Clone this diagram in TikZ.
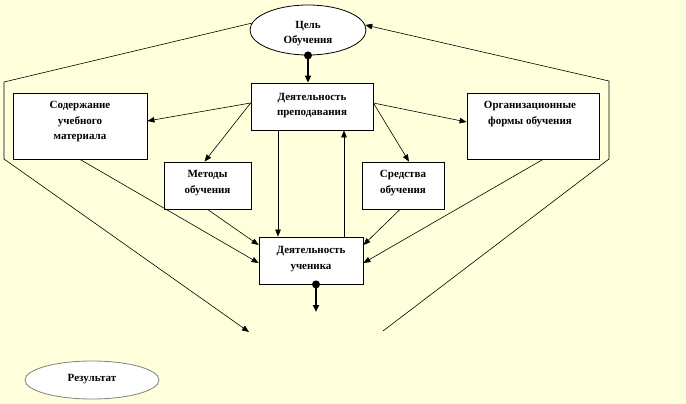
\documentclass[tikz,border=0pt]{standalone}
\usepackage{fontspec}
\setmainfont{Liberation Serif}
\usetikzlibrary{arrows.meta,shapes.geometric}
\definecolor{bg}{HTML}{FFFFDC}
\tikzset{
  box/.style={draw=black, fill=white, line width=0.8pt, align=center, inner sep=0pt},
  oval/.style={ellipse, draw=black, fill=white, line width=0.8pt, align=center, inner sep=0pt},
  txt/.style={align=center, inner sep=0pt, font=\bfseries\fontsize{11}{15.5}\selectfont},
  conn/.style={line width=0.6pt, -{Triangle[length=7pt,width=5.5pt]}},
  plain/.style={line width=0.6pt},
  heavy/.style={line width=1.8pt, -{Triangle[length=7pt,width=6pt]}},
  dotc/.style={circle, fill=black, inner sep=0pt, minimum size=8pt},
}
\begin{document}
\begin{tikzpicture}[x=1pt,y=-1pt]
\fill[bg] (0,0) rectangle (686,404);
\useasboundingbox (0,0) rectangle (686,404);

% nodes
\node[oval, minimum width=116pt, minimum height=50pt] (goal) at (308,30) {};
\node[txt] (goalt) at (308,33.5) {Цель\\Обучения};
\node[box, minimum width=122pt, minimum height=47pt] (teach) at (312,106.5) {};
\node[txt] (teacht) at (312,105.5) {Деятельность\\преподавания};
\node[box, minimum width=134pt, minimum height=66pt] (cont) at (80,126) {};
\node[txt] (contt) at (80,122) {Содержание\\учебного\\материала};
\node[box, minimum width=87pt, minimum height=47pt] (meth) at (207.5,185.5) {};
\node[txt] (metht) at (207.5,183) {Методы\\обучения};
\node[box, minimum width=82pt, minimum height=47pt] (means) at (403,185.5) {};
\node[txt] (meanst) at (403,183) {Средства\\обучения};
\node[box, minimum width=132pt, minimum height=66pt] (org) at (533,126) {};
\node[txt] (orgt) at (530,114) {Организационные\\формы обучения};
\node[box, minimum width=104pt, minimum height=47pt] (learn) at (311,260.5) {};
\node[txt] (learnt) at (311,259) {Деятельность\\ученика};
\node[oval, draw=gray, minimum width=134pt, minimum height=38pt] (res) at (92,380) {};
\node[txt] (rest) at (92,379) {Результат};

% outer frame
\coordinate (l1) at (4,82);
\coordinate (l2) at (4,159);
\coordinate (lend) at (249,332);
\coordinate (r0) at (383,331);
\coordinate (r1) at (609,159);
\coordinate (r2) at (609,81);
\draw[conn] (goal.173) -- (l1) -- (l2) -- (lend);
\draw[conn] (r0) -- (r1) -- (r2) -- (goal.5);

% goal to teaching
\node[dotc] (gdot) at (goal.south) {};
\draw[heavy] (goal.south) -- (goal.south |- teach.north);

% from teaching
\draw[conn] ([yshift=3.5pt]teach.west) -- ([yshift=5pt]cont.east);
\draw[conn] ([yshift=3.5pt]teach.west) -- ([xshift=-3pt]meth.north);
\draw[conn] ([yshift=3.5pt]teach.east) -- ([yshift=4pt]org.west);
\draw[conn] ([yshift=3.5pt]teach.east) -- ([xshift=6pt]means.north);
\draw[conn] ([xshift=-34pt]teach.south) -- ([xshift=-34pt]teach.south |- learn.north);
\draw[conn] ([xshift=33pt]learn.north) -- ([xshift=33pt]learn.north |- teach.south);

% into learning
\draw[conn] (cont.south) -- ([yshift=-2.5pt]learn.west);
\draw[conn] (meth.south) -- ([yshift=15.5pt]learn.west);
\draw[conn] ([xshift=-3pt]means.south) -- ([yshift=15.5pt]learn.east);
\draw[conn] ([xshift=10pt]org.south) -- ([yshift=-2.5pt]learn.east);

% learning out
\coordinate (lout) at (316,312);
\node[dotc] (ldot) at ([xshift=5pt]learn.south) {};
\draw[heavy] ([xshift=5pt]learn.south) -- (lout);
\end{tikzpicture}
\end{document}
